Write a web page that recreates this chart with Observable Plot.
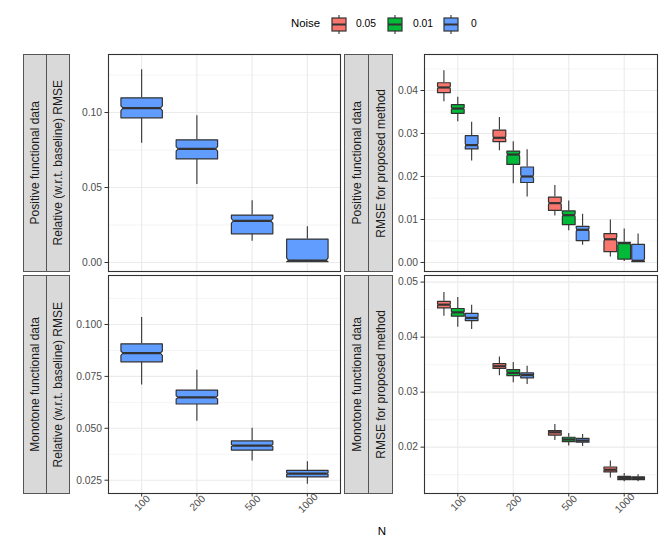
<!DOCTYPE html>
<html>
<head>
<meta charset="utf-8">
<script src="https://cdn.jsdelivr.net/npm/d3@7"></script>
<script src="https://cdn.jsdelivr.net/npm/@observablehq/plot@0.6"></script>
<style>
  html, body { margin: 0; padding: 0; background: #fff; }
  #root { position: relative; width: 664px; height: 545px; font-family: "Liberation Sans", Arial, Helvetica, sans-serif; overflow: hidden; }
  .abs { position: absolute; }
  .strip { position: absolute; box-sizing: border-box; background: #D9D9D9; border: 1px solid #555; display: flex; align-items: center; justify-content: center; overflow: hidden; }
  .strip span { writing-mode: vertical-rl; transform: rotate(180deg); font-size: 12px; color: #1A1A1A; white-space: nowrap; }
  .lt { position: absolute; line-height: 1; white-space: nowrap; transform: translateY(-50%); }
</style>
</head>
<body>
<div id="root"></div>
<script>
// ---------- data ----------
const Ns = ["100", "200", "500", "1000"];
const noiseLevels = ["0.05", "0.01", "0"];
const noiseColors = ["#F8766D", "#00BA38", "#619CFF"];
const rowLabels = ["Positive functional data", "Monotone functional data"];
const colLabels = ["Relative (w.r.t. baseline) RMSE", "RMSE for proposed method"];

// five-number summaries per N: [lower whisker, Q1, median, Q3, upper whisker]
const posRelative0 = [[0.0795, 0.0965, 0.1029, 0.1098, 0.1285], [0.0520, 0.0691, 0.0758, 0.0818, 0.0978], [0.0142, 0.0191, 0.0278, 0.0316, 0.0411], [0.0005, 0.0005, 0.0013, 0.0156, 0.0238]];
const monoRelative0 = [[0.0709, 0.0820, 0.0862, 0.0907, 0.1034], [0.0534, 0.0617, 0.0649, 0.0684, 0.0780], [0.0342, 0.0395, 0.0417, 0.0439, 0.0500], [0.0230, 0.0266, 0.0282, 0.0297, 0.0339]];
const posProposed005 = [[0.0374, 0.0395, 0.0407, 0.0418, 0.0446], [0.0260, 0.0281, 0.0290, 0.0308, 0.0337], [0.0108, 0.0121, 0.0138, 0.0152, 0.0179], [0.0013, 0.0025, 0.0054, 0.0067, 0.0099]];
const posProposed001 = [[0.0327, 0.0347, 0.0358, 0.0367, 0.0384], [0.0183, 0.0228, 0.0251, 0.0259, 0.0281], [0.0074, 0.0088, 0.0110, 0.0120, 0.0143], [0.0002, 0.0008, 0.0045, 0.0047, 0.0078]];
const posProposed0 = [[0.0236, 0.0264, 0.0273, 0.0295, 0.0326], [0.0152, 0.0186, 0.0200, 0.0222, 0.0262], [0.0040, 0.0051, 0.0076, 0.0084, 0.0112], [0.0002, 0.0002, 0.0004, 0.0042, 0.0066]];
const monoProposed005 = [[0.0438, 0.0453, 0.0459, 0.0465, 0.0481], [0.0330, 0.0343, 0.0347, 0.0352, 0.0364], [0.0212, 0.0222, 0.0227, 0.0230, 0.0241], [0.0144, 0.0155, 0.0159, 0.0164, 0.0175]];
const monoProposed001 = [[0.0418, 0.0438, 0.0445, 0.0452, 0.0472], [0.0317, 0.0330, 0.0335, 0.0341, 0.0354], [0.0202, 0.0210, 0.0214, 0.0218, 0.0225], [0.0137, 0.0141, 0.0144, 0.0147, 0.0152]];
const monoProposed0 = [[0.0414, 0.0430, 0.0435, 0.0443, 0.0458], [0.0314, 0.0326, 0.0331, 0.0335, 0.0347], [0.0201, 0.0209, 0.0212, 0.0216, 0.0223], [0.0137, 0.0141, 0.0144, 0.0146, 0.0150]];

// axis ticks
const ticksTL = [0, 0.05, 0.10], minorTL = [0.025, 0.075, 0.125];
const ticksBL = [0.025, 0.05, 0.075, 0.10], minorBL = [0.0375, 0.0625, 0.0875, 0.1125];
const ticksTR = [0, 0.01, 0.02, 0.03, 0.04], minorTR = [0.005, 0.015, 0.025, 0.035, 0.045];
const ticksBR = [0.02, 0.03, 0.04, 0.05], minorBR = [0.015, 0.025, 0.035, 0.045];

// ---------- helpers ----------
const root = document.getElementById("root");
const FONT = '"Liberation Sans", Arial, Helvetica, sans-serif';

function boxGeometry(series, boxWidth) {
  // series: [{values, color, offset}]
  const polys = [], meds = [], whisk = [];
  series.forEach((s, k) => {
    s.values.forEach((v, i) => {
      const [lo, q1, med, q3, hi] = v;
      const cx = i + s.offset, hw = boxWidth / 2;
      const xl = cx - hw, xr = cx + hw, inset = boxWidth * 0.05;
      const nh = 0.12 * (q3 - q1);
      const nlo = Math.max(q1, med - nh), nhi = Math.min(q3, med + nh);
      const id = k + "-" + i;
      [[xl, q1], [xl, nlo], [xl + inset, med], [xl, nhi], [xl, q3],
       [xr, q3], [xr, nhi], [xr - inset, med], [xr, nlo], [xr, q1]]
        .forEach(([x, y]) => polys.push({id, k, x, y}));
      meds.push({k, x1: xl + inset, x2: xr - inset, y: med});
      whisk.push({x: cx, y1: lo, y2: q1});
      whisk.push({x: cx, y1: q3, y2: hi});
    });
  });
  return {polys, meds, whisk};
}

function panel({series, boxWidth, domain, ticks, minor, fmt, width, marginLeft, height, marginBottom, showX}) {
  const g = boxGeometry(series, boxWidth);
  const marks = [
    Plot.ruleY(minor, {stroke: "#EBEBEB", strokeWidth: 0.55}),
    Plot.ruleY(ticks, {stroke: "#EBEBEB", strokeWidth: 1.1}),
    Plot.ruleX([0, 1, 2, 3], {stroke: "#EBEBEB", strokeWidth: 1.1}),
    Plot.ruleX(g.whisk, {x: "x", y1: "y1", y2: "y2", stroke: "#333", strokeWidth: 1.1})
  ];
  series.forEach((s, k) => {
    marks.push(Plot.line(g.polys.filter(d => d.k === k), {
      x: "x", y: "y", z: "id", fill: s.color, stroke: "#333", strokeWidth: 1.2, curve: "linear-closed"
    }));
    marks.push(Plot.link(g.meds.filter(d => d.k === k), {
      x1: "x1", x2: "x2", y1: "y", y2: "y", stroke: "#333", strokeWidth: 2.2
    }));
  });
  marks.push(Plot.frame({stroke: "#333", strokeWidth: 1.1}));
  marks.push(Plot.axisY(ticks, {tickFormat: fmt, tickSize: 3.5, tickPadding: 3, fontSize: 10.3, stroke: "#333", fill: "#4D4D4D", label: null}));
  if (showX) {
    marks.push(Plot.axisX([0, 1, 2, 3], {tickFormat: () => "", tickSize: 3.5, stroke: "#333", label: null}));
    marks.push(Plot.text([0, 1, 2, 3], {x: d => d, text: d => Ns[d], frameAnchor: "bottom", dy: 12, dx: 3,
      rotate: -45, textAnchor: "middle", fontSize: 10.3, fill: "#4D4D4D"}));
  }
  return Plot.plot({
    width, height,
    marginLeft, marginRight: 1, marginTop: 1, marginBottom,
    style: {fontFamily: FONT, background: "transparent", overflow: "visible", maxWidth: "none"},
    x: {type: "linear", domain: [-0.6, 3.6], axis: null},
    y: {type: "linear", domain},
    marks
  });
}

function place(el, left, top) {
  const d = document.createElement("div");
  d.className = "abs";
  d.style.left = left + "px";
  d.style.top = top + "px";
  d.appendChild(el);
  root.appendChild(d);
}

function strip(x, y, w, h, text) {
  const d = document.createElement("div");
  d.className = "strip";
  Object.assign(d.style, {left: x + "px", top: y + "px", width: w + "px", height: h + "px"});
  const s = document.createElement("span");
  s.textContent = text;
  d.appendChild(s);
  root.appendChild(d);
}

const fmt2 = d3.format(".2f"), fmt3 = d3.format(".3f");
const dodge = [-0.25, 0, 0.25];
const rightWidth = 0.23;

// ---------- panels ----------
place(panel({series: [{values: posRelative0, color: noiseColors[2], offset: 0}], boxWidth: 0.75,
  domain: [-0.006, 0.1387], ticks: ticksTL, minor: minorTL, fmt: fmt2,
  width: 271, marginLeft: 38, height: 219, marginBottom: 1, showX: false}), 70, 53);

place(panel({series: [{values: monoRelative0, color: noiseColors[2], offset: 0}], boxWidth: 0.75,
  domain: [0.0186, 0.1236], ticks: ticksBL, minor: minorBL, fmt: fmt3,
  width: 271, marginLeft: 38, height: 249, marginBottom: 30, showX: true}), 70, 274);

place(panel({series: [posProposed005, posProposed001, posProposed0].map((v, k) => ({values: v, color: noiseColors[k], offset: dodge[k]})),
  boxWidth: rightWidth, domain: [-0.0021, 0.04837], ticks: ticksTR, minor: minorTR, fmt: fmt2,
  width: 266, marginLeft: 32, height: 219, marginBottom: 1, showX: false}), 392, 53);

place(panel({series: [monoProposed005, monoProposed001, monoProposed0].map((v, k) => ({values: v, color: noiseColors[k], offset: dodge[k]})),
  boxWidth: rightWidth, domain: [0.01158, 0.0512], ticks: ticksBR, minor: minorBR, fmt: fmt2,
  width: 266, marginLeft: 32, height: 249, marginBottom: 30, showX: true}), 392, 274);

// ---------- strips ----------
strip(23, 54, 24, 218, rowLabels[0]);
strip(46, 54, 24, 218, colLabels[0]);
strip(23, 275, 24, 219, rowLabels[1]);
strip(46, 275, 24, 219, colLabels[0]);
strip(344, 54, 25, 218, rowLabels[0]);
strip(368, 54, 25, 218, colLabels[1]);
strip(344, 275, 25, 219, rowLabels[1]);
strip(368, 275, 25, 219, colLabels[1]);

// ---------- x title ----------
const xt = document.createElement("div");
xt.className = "lt";
Object.assign(xt.style, {left: "382px", top: "532px", fontSize: "11.5px", color: "#000", transform: "translate(-50%, -50%)"});
xt.textContent = "N";
root.appendChild(xt);

// ---------- legend ----------
const lcy = 24;
const title = document.createElement("div");
title.className = "lt";
Object.assign(title.style, {left: "291px", top: lcy + "px", fontSize: "11.4px", color: "#000"});
title.textContent = "Noise";
root.appendChild(title);
const keyX = [331, 387, 443], labX = [356, 413, 471];
noiseLevels.forEach((lab, k) => {
  const ns = "http://www.w3.org/2000/svg";
  const svg = document.createElementNS(ns, "svg");
  svg.setAttribute("width", 17); svg.setAttribute("height", 19);
  svg.style.position = "absolute"; svg.style.left = keyX[k] + "px"; svg.style.top = (lcy - 9.5) + "px";
  svg.innerHTML = `<line x1="8" x2="8" y1="0" y2="19" stroke="#333" stroke-width="1.1"/>
    <rect x="1" y="3" width="14" height="13" fill="${noiseColors[k]}" stroke="#333" stroke-width="1.2"/>
    <line x1="1" x2="15" y1="9.5" y2="9.5" stroke="#333" stroke-width="2"/>`;
  root.appendChild(svg);
  const t = document.createElement("div");
  t.className = "lt";
  Object.assign(t.style, {left: labX[k] + "px", top: lcy + "px", fontSize: "10.3px", color: "#000"});
  t.textContent = lab;
  root.appendChild(t);
});
</script>
</body>
</html>
